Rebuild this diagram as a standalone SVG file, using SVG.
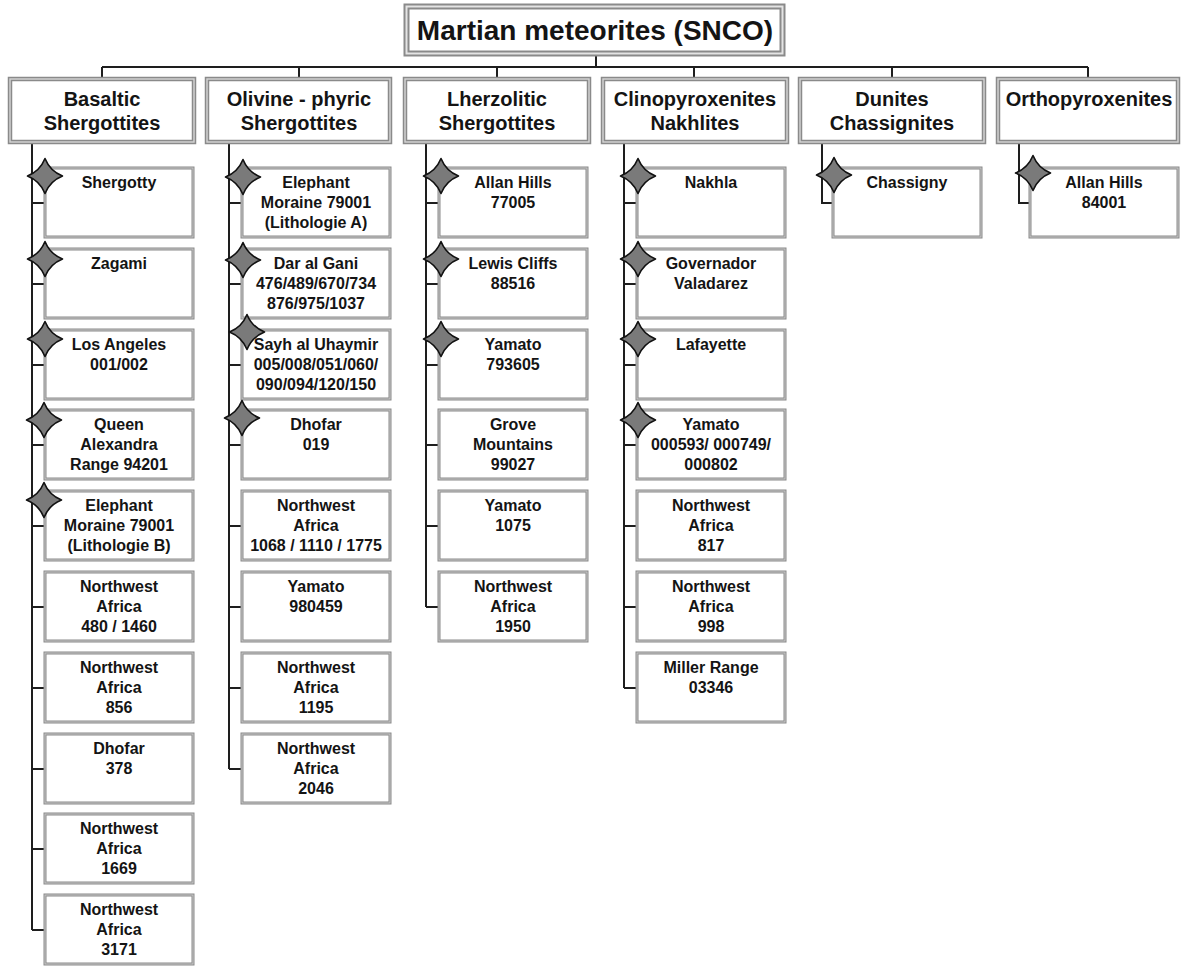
<svg xmlns="http://www.w3.org/2000/svg" xmlns:xlink="http://www.w3.org/1999/xlink" width="1181" height="966" viewBox="0 0 1181 966">
<style>
.conn{stroke:#1e1e1e;stroke-width:2;fill:none}
.ho{fill:#fff;stroke:#8a8a8a;stroke-width:4.5}
.hi{fill:none;stroke:#d6d6d6;stroke-width:1.4}
.co{fill:#fff;stroke:#8a8a8a;stroke-width:3}
.ci{fill:none;stroke:#c8c8c8;stroke-width:1}
.t{font-family:"Liberation Sans",Arial,sans-serif;font-weight:bold;fill:#141414;text-anchor:middle}
.tt{font-size:28px}
.ht{font-size:20px}
.ct{font-size:16px}
.star{fill:#7a7a7a;stroke:#111;stroke-width:1.6;stroke-linejoin:round}
</style>
<defs>
<path id="st" d="M0,-17.5 Q5,-5 17.5,0 Q5,5 0,17.5 Q-5,5 -17.5,0 Q-5,-5 0,-17.5 Z"/>
</defs>
<rect width="1181" height="966" fill="#fff"/>

<g id="connectors">
<path class="conn" d="M596,55 V67 M102,67 H1088 M102,67 V79 M299,67 V79 M497,67 V79 M694,67 V79 M892,67 V79 M1088,67 V79"/>
<path class="conn" d="M32,142 V930 M32,203 H45 M32,284 H45 M32,365 H45 M32,445 H45 M32,526 H45 M32,607 H45 M32,688 H45 M32,769 H45 M32,849 H45 M32,930 H45"/>
<path class="conn" d="M229,142 V769 M229,203 H242 M229,284 H242 M229,365 H242 M229,445 H242 M229,526 H242 M229,607 H242 M229,688 H242 M229,769 H242"/>
<path class="conn" d="M426,142 V607 M426,203 H439 M426,284 H439 M426,365 H439 M426,445 H439 M426,526 H439 M426,607 H439"/>
<path class="conn" d="M624,142 V688 M624,203 H637 M624,284 H637 M624,365 H637 M624,445 H637 M624,526 H637 M624,607 H637 M624,688 H637"/>
<path class="conn" d="M822,142 V203 H833"/>
<path class="conn" d="M1019,142 V203 H1030"/>
</g>

<g id="title">
<rect x="404.5" y="4.5" width="380" height="51" fill="#e4e4e4" stroke="#8a8a8a" stroke-width="2"/>
<rect x="408.5" y="8.5" width="372" height="43" fill="#fff" stroke="#8a8a8a" stroke-width="2"/>
<text class="t tt" x="595" y="40">Martian meteorites (SNCO)</text>
</g>

<g id="h-basaltic"><rect class="ho" x="10" y="79" width="184" height="63"/><rect class="hi" x="10" y="79" width="184" height="63"/>
<text class="t ht" x="102" y="106">Basaltic</text><text class="t ht" x="102" y="130">Shergottites</text></g>
<g id="h-olivine"><rect class="ho" x="207" y="79" width="183" height="63"/><rect class="hi" x="207" y="79" width="183" height="63"/>
<text class="t ht" x="299" y="106">Olivine - phyric</text><text class="t ht" x="299" y="130">Shergottites</text></g>
<g id="h-lherz"><rect class="ho" x="405" y="79" width="184" height="63"/><rect class="hi" x="405" y="79" width="184" height="63"/>
<text class="t ht" x="497" y="106">Lherzolitic</text><text class="t ht" x="497" y="130">Shergottites</text></g>
<g id="h-clino"><rect class="ho" x="603" y="79" width="184" height="63"/><rect class="hi" x="603" y="79" width="184" height="63"/>
<text class="t ht" x="695" y="106">Clinopyroxenites</text><text class="t ht" x="695" y="130">Nakhlites</text></g>
<g id="h-dunites"><rect class="ho" x="800" y="79" width="184" height="63"/><rect class="hi" x="800" y="79" width="184" height="63"/>
<text class="t ht" x="892" y="106">Dunites</text><text class="t ht" x="892" y="130">Chassignites</text></g>
<g id="h-ortho"><rect class="ho" x="998" y="79" width="180" height="63"/><rect class="hi" x="998" y="79" width="180" height="63"/>
<text class="t ht" x="1089" y="106">Orthopyroxenites</text></g>

<!-- Basaltic children -->
<g id="b1"><rect class="co" x="45" y="168" width="148" height="69"/><rect class="ci" x="45" y="168" width="148" height="69"/><text class="t ct" x="119" y="188">Shergotty</text></g>
<g id="b2"><rect class="co" x="45" y="249" width="148" height="69"/><rect class="ci" x="45" y="249" width="148" height="69"/><text class="t ct" x="119" y="269">Zagami</text></g>
<g id="b3"><rect class="co" x="45" y="330" width="148" height="69"/><rect class="ci" x="45" y="330" width="148" height="69"/><text class="t ct" x="119" y="350">Los Angeles</text><text class="t ct" x="119" y="370">001/002</text></g>
<g id="b4"><rect class="co" x="45" y="410" width="148" height="69"/><rect class="ci" x="45" y="410" width="148" height="69"/><text class="t ct" x="119" y="430">Queen</text><text class="t ct" x="119" y="450">Alexandra</text><text class="t ct" x="119" y="470">Range 94201</text></g>
<g id="b5"><rect class="co" x="45" y="491" width="148" height="69"/><rect class="ci" x="45" y="491" width="148" height="69"/><text class="t ct" x="119" y="511">Elephant</text><text class="t ct" x="119" y="531">Moraine 79001</text><text class="t ct" x="119" y="551">(Lithologie B)</text></g>
<g id="b6"><rect class="co" x="45" y="572" width="148" height="69"/><rect class="ci" x="45" y="572" width="148" height="69"/><text class="t ct" x="119" y="592">Northwest</text><text class="t ct" x="119" y="612">Africa</text><text class="t ct" x="119" y="632">480 / 1460</text></g>
<g id="b7"><rect class="co" x="45" y="653" width="148" height="69"/><rect class="ci" x="45" y="653" width="148" height="69"/><text class="t ct" x="119" y="673">Northwest</text><text class="t ct" x="119" y="693">Africa</text><text class="t ct" x="119" y="713">856</text></g>
<g id="b8"><rect class="co" x="45" y="734" width="148" height="69"/><rect class="ci" x="45" y="734" width="148" height="69"/><text class="t ct" x="119" y="754">Dhofar</text><text class="t ct" x="119" y="774">378</text></g>
<g id="b9"><rect class="co" x="45" y="814" width="148" height="69"/><rect class="ci" x="45" y="814" width="148" height="69"/><text class="t ct" x="119" y="834">Northwest</text><text class="t ct" x="119" y="854">Africa</text><text class="t ct" x="119" y="874">1669</text></g>
<g id="b10"><rect class="co" x="45" y="895" width="148" height="69"/><rect class="ci" x="45" y="895" width="148" height="69"/><text class="t ct" x="119" y="915">Northwest</text><text class="t ct" x="119" y="935">Africa</text><text class="t ct" x="119" y="955">3171</text></g>

<!-- Olivine children -->
<g id="o1"><rect class="co" x="242" y="168" width="148" height="69"/><rect class="ci" x="242" y="168" width="148" height="69"/><text class="t ct" x="316" y="188">Elephant</text><text class="t ct" x="316" y="208">Moraine 79001</text><text class="t ct" x="316" y="228">(Lithologie A)</text></g>
<g id="o2"><rect class="co" x="242" y="249" width="148" height="69"/><rect class="ci" x="242" y="249" width="148" height="69"/><text class="t ct" x="316" y="269">Dar al Gani</text><text class="t ct" x="316" y="289">476/489/670/734</text><text class="t ct" x="316" y="309">876/975/1037</text></g>
<g id="o3"><rect class="co" x="242" y="330" width="148" height="69"/><rect class="ci" x="242" y="330" width="148" height="69"/><text class="t ct" x="316" y="350">Sayh al Uhaymir</text><text class="t ct" x="316" y="370">005/008/051/060/</text><text class="t ct" x="316" y="390">090/094/120/150</text></g>
<g id="o4"><rect class="co" x="242" y="410" width="148" height="69"/><rect class="ci" x="242" y="410" width="148" height="69"/><text class="t ct" x="316" y="430">Dhofar</text><text class="t ct" x="316" y="450">019</text></g>
<g id="o5"><rect class="co" x="242" y="491" width="148" height="69"/><rect class="ci" x="242" y="491" width="148" height="69"/><text class="t ct" x="316" y="511">Northwest</text><text class="t ct" x="316" y="531">Africa</text><text class="t ct" x="316" y="551">1068 / 1110 / 1775</text></g>
<g id="o6"><rect class="co" x="242" y="572" width="148" height="69"/><rect class="ci" x="242" y="572" width="148" height="69"/><text class="t ct" x="316" y="592">Yamato</text><text class="t ct" x="316" y="612">980459</text></g>
<g id="o7"><rect class="co" x="242" y="653" width="148" height="69"/><rect class="ci" x="242" y="653" width="148" height="69"/><text class="t ct" x="316" y="673">Northwest</text><text class="t ct" x="316" y="693">Africa</text><text class="t ct" x="316" y="713">1195</text></g>
<g id="o8"><rect class="co" x="242" y="734" width="148" height="69"/><rect class="ci" x="242" y="734" width="148" height="69"/><text class="t ct" x="316" y="754">Northwest</text><text class="t ct" x="316" y="774">Africa</text><text class="t ct" x="316" y="794">2046</text></g>

<!-- Lherzolitic children -->
<g id="l1"><rect class="co" x="439" y="168" width="148" height="69"/><rect class="ci" x="439" y="168" width="148" height="69"/><text class="t ct" x="513" y="188">Allan Hills</text><text class="t ct" x="513" y="208">77005</text></g>
<g id="l2"><rect class="co" x="439" y="249" width="148" height="69"/><rect class="ci" x="439" y="249" width="148" height="69"/><text class="t ct" x="513" y="269">Lewis Cliffs</text><text class="t ct" x="513" y="289">88516</text></g>
<g id="l3"><rect class="co" x="439" y="330" width="148" height="69"/><rect class="ci" x="439" y="330" width="148" height="69"/><text class="t ct" x="513" y="350">Yamato</text><text class="t ct" x="513" y="370">793605</text></g>
<g id="l4"><rect class="co" x="439" y="410" width="148" height="69"/><rect class="ci" x="439" y="410" width="148" height="69"/><text class="t ct" x="513" y="430">Grove</text><text class="t ct" x="513" y="450">Mountains</text><text class="t ct" x="513" y="470">99027</text></g>
<g id="l5"><rect class="co" x="439" y="491" width="148" height="69"/><rect class="ci" x="439" y="491" width="148" height="69"/><text class="t ct" x="513" y="511">Yamato</text><text class="t ct" x="513" y="531">1075</text></g>
<g id="l6"><rect class="co" x="439" y="572" width="148" height="69"/><rect class="ci" x="439" y="572" width="148" height="69"/><text class="t ct" x="513" y="592">Northwest</text><text class="t ct" x="513" y="612">Africa</text><text class="t ct" x="513" y="632">1950</text></g>

<!-- Clinopyroxenite children -->
<g id="c1"><rect class="co" x="637" y="168" width="148" height="69"/><rect class="ci" x="637" y="168" width="148" height="69"/><text class="t ct" x="711" y="188">Nakhla</text></g>
<g id="c2"><rect class="co" x="637" y="249" width="148" height="69"/><rect class="ci" x="637" y="249" width="148" height="69"/><text class="t ct" x="711" y="269">Governador</text><text class="t ct" x="711" y="289">Valadarez</text></g>
<g id="c3"><rect class="co" x="637" y="330" width="148" height="69"/><rect class="ci" x="637" y="330" width="148" height="69"/><text class="t ct" x="711" y="350">Lafayette</text></g>
<g id="c4"><rect class="co" x="637" y="410" width="148" height="69"/><rect class="ci" x="637" y="410" width="148" height="69"/><text class="t ct" x="711" y="430">Yamato</text><text class="t ct" x="711" y="450">000593/ 000749/</text><text class="t ct" x="711" y="470">000802</text></g>
<g id="c5"><rect class="co" x="637" y="491" width="148" height="69"/><rect class="ci" x="637" y="491" width="148" height="69"/><text class="t ct" x="711" y="511">Northwest</text><text class="t ct" x="711" y="531">Africa</text><text class="t ct" x="711" y="551">817</text></g>
<g id="c6"><rect class="co" x="637" y="572" width="148" height="69"/><rect class="ci" x="637" y="572" width="148" height="69"/><text class="t ct" x="711" y="592">Northwest</text><text class="t ct" x="711" y="612">Africa</text><text class="t ct" x="711" y="632">998</text></g>
<g id="c7"><rect class="co" x="637" y="653" width="148" height="69"/><rect class="ci" x="637" y="653" width="148" height="69"/><text class="t ct" x="711" y="673">Miller Range</text><text class="t ct" x="711" y="693">03346</text></g>

<!-- Dunites / Ortho children -->
<g id="d1"><rect class="co" x="833" y="168" width="148" height="69"/><rect class="ci" x="833" y="168" width="148" height="69"/><text class="t ct" x="907" y="188">Chassigny</text></g>
<g id="r1"><rect class="co" x="1030" y="168" width="148" height="69"/><rect class="ci" x="1030" y="168" width="148" height="69"/><text class="t ct" x="1104" y="188">Allan Hills</text><text class="t ct" x="1104" y="208">84001</text></g>

<g id="stars">
<use xlink:href="#st" href="#st" class="star" x="45" y="176"/>
<use xlink:href="#st" href="#st" class="star" x="45" y="259"/>
<use xlink:href="#st" href="#st" class="star" x="45" y="339"/>
<use xlink:href="#st" href="#st" class="star" x="44" y="420"/>
<use xlink:href="#st" href="#st" class="star" x="44" y="500"/>
<use xlink:href="#st" href="#st" class="star" x="243" y="177"/>
<use xlink:href="#st" href="#st" class="star" x="243" y="260"/>
<use xlink:href="#st" href="#st" class="star" x="247" y="332"/>
<use xlink:href="#st" href="#st" class="star" x="242" y="418"/>
<use xlink:href="#st" href="#st" class="star" x="441" y="176"/>
<use xlink:href="#st" href="#st" class="star" x="441" y="259"/>
<use xlink:href="#st" href="#st" class="star" x="441" y="339"/>
<use xlink:href="#st" href="#st" class="star" x="638" y="176"/>
<use xlink:href="#st" href="#st" class="star" x="638" y="259"/>
<use xlink:href="#st" href="#st" class="star" x="638" y="339"/>
<use xlink:href="#st" href="#st" class="star" x="638" y="420"/>
<use xlink:href="#st" href="#st" class="star" x="834" y="175"/>
<use xlink:href="#st" href="#st" class="star" x="1033" y="173"/>
</g>
</svg>
